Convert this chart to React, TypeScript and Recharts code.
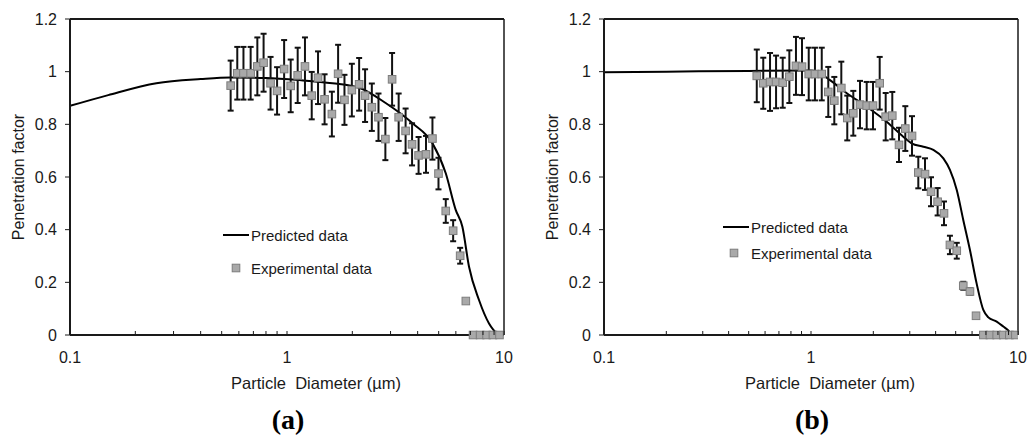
import React from "react";
import {
  ComposedChart, Line, Scatter, XAxis, YAxis, ErrorBar, ReferenceLine,
} from "recharts";

// panel (a) experimental points
const aDiam = [0.55, 0.59, 0.63, 0.68, 0.73, 0.78, 0.84, 0.9, 0.97, 1.04, 1.12, 1.21, 1.3, 1.39, 1.49, 1.61, 1.72, 1.84, 1.99, 2.15, 2.29, 2.46, 2.64, 2.84, 3.05, 3.27, 3.52, 3.77, 4.04, 4.37, 4.68, 4.99, 5.39, 5.83, 6.28, 6.67, 7.2, 7.76, 8.31, 8.89, 9.53];
const aPen = [0.947, 0.994, 0.994, 0.994, 1.02, 1.034, 0.956, 0.927, 1.01, 0.946, 0.986, 1.02, 0.909, 0.977, 0.895, 0.839, 0.992, 0.893, 0.93, 0.952, 0.909, 0.865, 0.827, 0.744, 0.971, 0.827, 0.775, 0.724, 0.682, 0.686, 0.746, 0.613, 0.471, 0.396, 0.301, 0.129, 0, 0, 0, 0, 0];
const aErr = [0.095, 0.1, 0.1, 0.1, 0.11, 0.11, 0.1, 0.09, 0.11, 0.1, 0.105, 0.11, 0.09, 0.1, 0.095, 0.085, 0.11, 0.095, 0.1, 0.1, 0.1, 0.09, 0.09, 0.08, 0.1, 0.09, 0.085, 0.08, 0.07, 0.07, 0.08, 0.06, 0.045, 0.04, 0.03, 0, 0, 0, 0, 0, 0];

// panel (a) predicted curve
const aLineX = [0.1, 0.15, 0.25, 0.4, 0.55, 0.8, 1.14, 1.62, 2.15, 2.86, 3.79, 4.68, 5.39, 5.99, 6.43, 6.9, 7.67, 8.53, 9.32, 9.76];
const aLineY = [0.87, 0.911, 0.956, 0.972, 0.978, 0.976, 0.968, 0.956, 0.939, 0.88, 0.804, 0.728, 0.614, 0.475, 0.411, 0.259, 0.133, 0.044, 0.006, 0];

// panel (b) experimental points
const bDiam = [0.547, 0.588, 0.634, 0.678, 0.73, 0.786, 0.846, 0.905, 0.975, 1.045, 1.127, 1.212, 1.296, 1.401, 1.497, 1.601, 1.725, 1.858, 1.993, 2.147, 2.295, 2.47, 2.662, 2.855, 3.076, 3.299, 3.555, 3.8, 4.09, 4.39, 4.69, 5.06, 5.44, 5.86, 6.27, 6.8, 7.32, 7.89, 8.49, 9.08, 9.71];
const bPen = [0.984, 0.956, 0.961, 0.961, 0.958, 0.981, 1.022, 1.019, 0.991, 0.991, 0.991, 0.923, 0.89, 0.938, 0.824, 0.842, 0.875, 0.871, 0.871, 0.956, 0.829, 0.833, 0.722, 0.784, 0.756, 0.617, 0.611, 0.544, 0.506, 0.462, 0.342, 0.32, 0.187, 0.165, 0.073, 0, 0, 0, 0, 0, 0];
const bErr = [0.1, 0.097, 0.11, 0.1, 0.095, 0.1, 0.11, 0.108, 0.1, 0.1, 0.1, 0.095, 0.09, 0.1, 0.085, 0.085, 0.09, 0.09, 0.09, 0.1, 0.09, 0.09, 0.065, 0.085, 0.075, 0.06, 0.06, 0.055, 0.052, 0.045, 0.035, 0.03, 0.015, 0.012, 0, 0, 0, 0, 0, 0, 0];

// panel (b) predicted curve
const bLineX = [0.1, 0.2, 0.5, 1.0, 1.065, 1.235, 1.49, 1.86, 2.32, 2.79, 3.06, 3.49, 3.9, 4.36, 4.69, 5.06, 5.44, 5.86, 6.31, 6.8, 7.19, 7.89, 8.49, 9.08, 9.33];
const bLineY = [0.998, 1.0, 1.003, 1.004, 1.0, 0.968, 0.918, 0.867, 0.81, 0.753, 0.728, 0.715, 0.703, 0.671, 0.627, 0.551, 0.437, 0.323, 0.196, 0.095, 0.067, 0.051, 0.032, 0.013, 0];

const xTicks = [0.1, 0.2, 0.3, 0.4, 0.5, 0.6, 0.7, 0.8, 0.9, 1, 2, 3, 4, 5, 6, 7, 8, 9, 10];
const xMajor = [0.1, 1, 10];
const yTicks = [0, 0.2, 0.4, 0.6, 0.8, 1, 1.2];

const FONT = "'Liberation Sans', Arial, sans-serif";
const INK = "#1a1a1a";

const LogTick = (props: any) => {
  const { x, y, payload } = props;
  const v = payload.value;
  return (
    <g>
      <line x1={x} x2={x} y1={y} y2={y - 4} stroke={INK} strokeWidth={1} />
      {xMajor.includes(v) && (
        <text x={x} y={y + 28} textAnchor="middle" fontSize={16} fontFamily={FONT} fill={INK}>
          {String(v)}
        </text>
      )}
    </g>
  );
};

const Square = (props: any) => {
  const { cx, cy } = props;
  if (cx == null || cy == null) return null;
  return <rect x={cx - 3.8} y={cy - 3.8} width={7.6} height={7.6} fill="#a9a9a9" stroke="#7d7d7d" strokeWidth={1} />;
};

type PanelProps = {
  pts: any[];
  line: any[];
  left: number;
  marginLeft: number;
  tag: string;
  legend: { lx: number; ly: number; sx: number; sy: number; tx: number };
};

function Panel({ pts, line, left, marginLeft, tag, legend }: PanelProps) {
  const axisX = marginLeft + 70;
  return (
    <div style={{ position: "absolute", left, top: 0 }}>
      <ComposedChart width={514} height={441} margin={{ top: 19, right: 10, left: marginLeft, bottom: 76 }}>
        <XAxis
          dataKey="d" type="number" scale="log" domain={[0.1, 10]} allowDataOverflow
          ticks={xTicks} interval={0} height={30} tickSize={0} tickMargin={0}
          tickLine={false} tick={<LogTick />}
          axisLine={{ stroke: INK, strokeWidth: 2 }}
        />
        <YAxis
          dataKey="p" type="number" domain={[0, 1.2]} ticks={yTicks} width={70}
          tickSize={5} tickMargin={8}
          tick={{ fontSize: 16, fontFamily: FONT, fill: INK }}
          tickLine={{ stroke: INK }}
          axisLine={{ stroke: INK, strokeWidth: 2 }}
        />
        <ReferenceLine y={1.2} stroke={INK} strokeWidth={2} />
        <ReferenceLine x={10} stroke={INK} strokeWidth={1.5} />
        <Line data={line} dataKey="p" type="monotone" stroke="#000" strokeWidth={2} dot={false} isAnimationActive={false} />
        <Scatter data={pts} dataKey="p" shape={<Square />} isAnimationActive={false}>
          <ErrorBar dataKey="e" direction="y" width={3} stroke="#111" strokeWidth={2} />
        </Scatter>
        <text transform={`translate(${axisX - 51.5},177) rotate(-90)`} textAnchor="middle" dominantBaseline="central" fontSize={16} fontFamily={FONT} fill={INK}>
          Penetration factor
        </text>
        <text x={316} y={389} textAnchor="middle" fontSize={16.5} fontFamily={FONT} fill={INK}>
          {"Particle\u00a0 Diameter (µm)"}
        </text>
        <text x={288 + (marginLeft > 0 ? 10 : 0)} y={429} textAnchor="middle" fontSize={28} fontWeight="bold" fontFamily="'Liberation Serif', 'Times New Roman', serif" fill="#000">
          {tag}
        </text>
        <g fontFamily={FONT} fontSize={15} fill={INK}>
          <line x1={legend.lx} x2={legend.lx + 26} y1={legend.ly} y2={legend.ly} stroke="#000" strokeWidth={2} />
          <text x={legend.tx} y={legend.ly} dominantBaseline="central">Predicted data</text>
          <rect x={legend.sx - 3.8} y={legend.sy - 3.8} width={7.6} height={7.6} fill="#a9a9a9" stroke="#7d7d7d" />
          <text x={legend.tx} y={legend.sy} dominantBaseline="central">Experimental data</text>
        </g>
      </ComposedChart>
    </div>
  );
}

const build = (xs: number[], ys: number[], es?: number[]) =>
  xs.map((d, i) => ({ d, p: ys[i], e: es ? es[i] : undefined }));

export default function App() {
  const aPts = build(aDiam, aPen, aErr);
  const bPts = build(bDiam, bPen, bErr);
  const aLine = build(aLineX, aLineY);
  const bLine = build(bLineX, bLineY);
  return (
    <div style={{ position: "absolute", left: 0, top: 0, width: 1028, height: 441, background: "#fff" }}>
      <Panel pts={aPts} line={aLine} left={0} marginLeft={0} tag="(a)"
        legend={{ lx: 223, ly: 235, sx: 236, sy: 268, tx: 251 }} />
      <Panel pts={bPts} line={bLine} left={514} marginLeft={20} tag="(b)"
        legend={{ lx: 209, ly: 227, sx: 220, sy: 253, tx: 237 }} />
    </div>
  );
}
